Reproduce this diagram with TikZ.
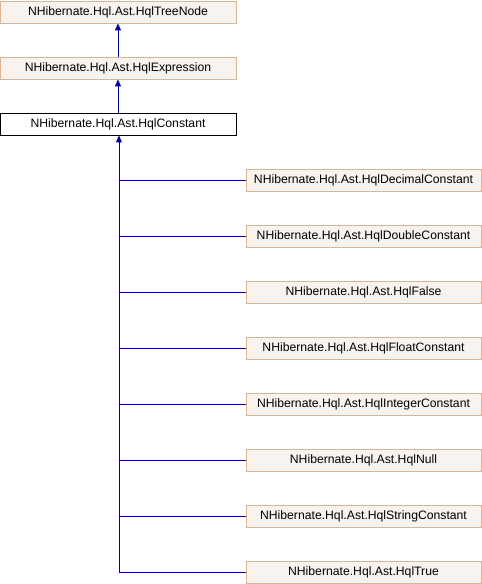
\documentclass[tikz,border=0pt]{standalone}
\usepackage{fontspec}
\setmainfont{Liberation Sans}
\usetikzlibrary{arrows.meta}
\definecolor{boxfill}{HTML}{F8F3EE}
\definecolor{boxline}{HTML}{DDB48E}
\definecolor{edge}{HTML}{000099}
\tikzset{
  cls/.style={draw=boxline, fill=boxfill, line width=0.9pt, minimum height=22pt, inner sep=0pt, font=\fontsize{12.2}{14}\selectfont},
  top/.style={cls, minimum width=236pt},
  child/.style={cls, minimum width=235pt},
  cur/.style={top, draw=black, fill=white},
  inh/.style={draw=edge, line width=1pt, -{Triangle[length=7pt,width=6pt]}},
  link/.style={draw=edge, line width=1pt}
}
\begin{document}
\begin{tikzpicture}[x=1pt,y=-1pt]
\useasboundingbox (0,0) rectangle (482,584);
\node[top] (tree) at (118,12) {NHibernate.Hql.Ast.HqlTreeNode};
\node[top] (expr) at (118,68) {NHibernate.Hql.Ast.HqlExpression};
\node[cur] (const) at (118,124) {NHibernate.Hql.Ast.HqlConstant};
\node[child] (c1) at (363.5,180) {NHibernate.Hql.Ast.HqlDecimalConstant};
\node[child] (c2) at (363.5,236) {NHibernate.Hql.Ast.HqlDoubleConstant};
\node[child] (c3) at (363.5,292) {NHibernate.Hql.Ast.HqlFalse};
\node[child] (c4) at (363.5,348) {NHibernate.Hql.Ast.HqlFloatConstant};
\node[child] (c5) at (363.5,404) {NHibernate.Hql.Ast.HqlIntegerConstant};
\node[child] (c6) at (363.5,460) {NHibernate.Hql.Ast.HqlNull};
\node[child] (c7) at (363.5,516) {NHibernate.Hql.Ast.HqlStringConstant};
\node[child] (c8) at (363.5,572) {NHibernate.Hql.Ast.HqlTrue};
\coordinate (trunk) at (119,572);
\draw[inh] (expr.north) -- (tree.south);
\draw[inh] (const.north) -- (expr.south);
\draw[link] (c8.west) -- (trunk);
\draw[inh] (trunk) -- (trunk |- const.south);
\foreach \c in {c1,c2,c3,c4,c5,c6,c7} {
  \draw[link] (\c.west) -- (trunk |- \c.west);
}
\end{tikzpicture}
\end{document}
